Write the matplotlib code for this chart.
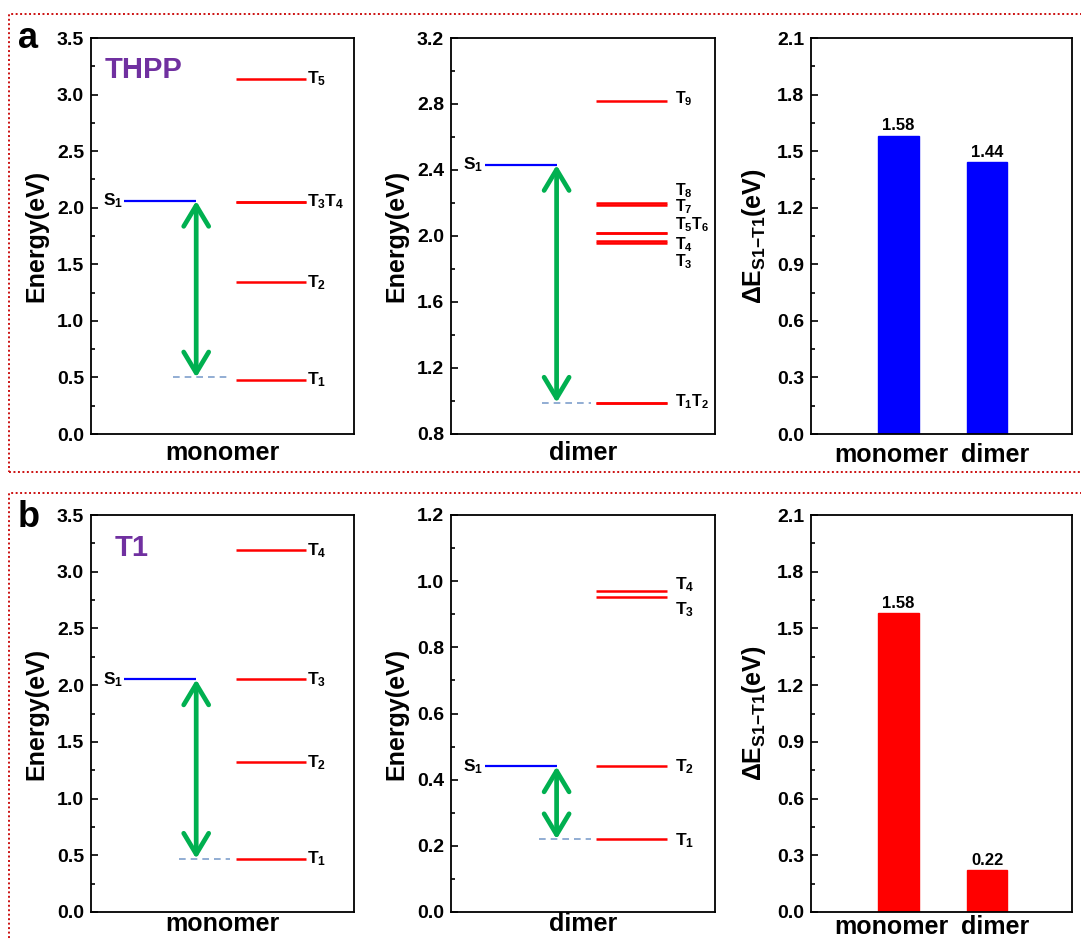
import matplotlib
matplotlib.use("Agg")
import matplotlib.pyplot as plt
from matplotlib.ticker import MultipleLocator, AutoMinorLocator
from matplotlib.patches import Rectangle
import matplotlib.transforms as mtransforms

plt.rcParams['font.family'] = ['Liberation Sans', 'DejaVu Sans']
plt.rcParams['font.weight'] = 'bold'
plt.rcParams['mathtext.fontset'] = 'custom'
plt.rcParams['mathtext.bf'] = 'Liberation Sans:bold'
plt.rcParams['mathtext.rm'] = 'Liberation Sans:bold'
plt.rcParams['mathtext.it'] = 'Liberation Sans:bold:italic'
plt.rcParams['mathtext.default'] = 'bf'

# ---------------- data ----------------
# (a) THPP monomer
thpp_mono_S1 = 2.06
thpp_mono_T = [0.48, 1.34, 2.05, 2.05, 3.14]
thpp_mono_labels = [r'$\mathbf{T_1}$', r'$\mathbf{T_2}$', r'$\mathbf{T_3T_4}$', r'$\mathbf{T_5}$']
thpp_mono_label_y = [0.48, 1.34, 2.05, 3.14]

# (a) THPP dimer
thpp_dim_S1 = 2.43
thpp_dim_T = [0.99, 0.99, 1.96, 1.97, 2.02, 2.02, 2.19, 2.20, 2.82]
thpp_dim_labels = [r'$\mathbf{T_1T_2}$', r'$\mathbf{T_3}$', r'$\mathbf{T_4}$', r'$\mathbf{T_5T_6}$',
                   r'$\mathbf{T_7}$', r'$\mathbf{T_8}$', r'$\mathbf{T_9}$']
thpp_dim_label_y = [0.995, 1.842, 1.947, 2.069, 2.176, 2.277, 2.834]

# (b) T1 monomer
t1_mono_S1 = 2.05
t1_mono_T = [0.47, 1.32, 2.05, 3.19]
t1_mono_labels = [r'$\mathbf{T_1}$', r'$\mathbf{T_2}$', r'$\mathbf{T_3}$', r'$\mathbf{T_4}$']
t1_mono_label_y = [0.47, 1.32, 2.05, 3.19]

# (b) T1 dimer
t1_dim_S1 = 0.44
t1_dim_T = [0.22, 0.44, 0.952, 0.970]
t1_dim_labels = [r'$\mathbf{T_1}$', r'$\mathbf{T_2}$', r'$\mathbf{T_3}$', r'$\mathbf{T_4}$']
t1_dim_label_y = [0.217, 0.44, 0.913, 0.988]

# bar charts
bar_categories = ['monomer', 'dimer']
thpp_gap = [1.58, 1.44]
t1_gap = [1.58, 0.22]

# ---------------- style ----------------
GREEN = '#00B050'
PURPLE = '#7030A0'
BLUE = '#0000FF'
RED = '#FF0000'
DASH = '#7F9FCC'

W, H = 1081, 939
fig = plt.figure(figsize=(W / 100, H / 100), dpi=100)


def px_axes(l, t, r, b):
    return fig.add_axes([l / W, 1 - b / H, (r - l) / W, (b - t) / H])


def style_axis(ax, ylim, major, ylabel):
    ax.set_ylim(*ylim)
    ax.yaxis.set_major_locator(MultipleLocator(major))
    ax.yaxis.set_minor_locator(AutoMinorLocator(2))
    ax.tick_params(axis='y', which='both', direction='in', right=False, labelsize=14, pad=5, width=1.2)
    ax.tick_params(axis='y', which='major', length=5)
    ax.tick_params(axis='y', which='minor', length=3)
    ax.tick_params(axis='x', which='both', bottom=False, top=False)
    for lab in ax.get_yticklabels():
        lab.set_fontweight('bold')
    for sp in ax.spines.values():
        sp.set_linewidth(1.3)
    ax.set_ylabel(ylabel, fontsize=18, fontweight='bold', labelpad=6)


def level_panel(ax, s1, tlev, labels, label_y, ylim, major, xlabel, label_x, dash_x0, xpad,
                dash_y=None, lab_fs=12.5):
    ax.set_xlim(0, 1)
    style_axis(ax, ylim, major, 'Energy(eV)')
    ax.set_xticks([])
    ax.set_xlabel(xlabel, fontsize=18, fontweight='bold', labelpad=xpad)
    # S1 level
    ax.plot([0.127, 0.40], [s1, s1], color=BLUE, lw=1.6, solid_capstyle='butt')
    ax.text(0.122, s1, r'$\mathbf{S_1}$', fontsize=12.5, ha='right', va='center')
    # T levels
    for t in tlev:
        ax.plot([0.55, 0.817], [t, t], color=RED, lw=1.8, solid_capstyle='butt')
    for lab, ly in zip(labels, label_y):
        ax.text(label_x, ly, lab, fontsize=lab_fs, ha='left', va='center')
    t1 = min(tlev) if dash_y is None else dash_y
    ax.plot([dash_x0, 0.53], [t1, t1], color=DASH, lw=1.2, dashes=(4, 3))
    ax.annotate('', xy=(0.40, t1), xytext=(0.40, s1),
                arrowprops=dict(arrowstyle='<->,head_length=1.5,head_width=0.9',
                                color=GREEN, lw=3.4, shrinkA=0, shrinkB=0))


def bar_panel(ax, values, color, ylabel, xpad):
    x = [1, 2]
    ax.set_xlim(0.009, 2.959)
    bars = ax.bar(x, values, width=0.457, color=color, edgecolor=color)
    style_axis(ax, (0, 2.1), 0.3, ylabel)
    ax.set_xticks(x)
    ax.set_xticklabels(bar_categories, fontsize=18, fontweight='bold')
    ax.tick_params(axis='x', pad=xpad)
    offs = [-7, 8]
    for lab, dx in zip(ax.get_xticklabels(), offs):
        lab.set_transform(lab.get_transform() + mtransforms.ScaledTranslation(dx / 100, 0, fig.dpi_scale_trans))
    for b, v in zip(bars, values):
        ax.annotate(f'{v:.2f}', (b.get_x() + b.get_width() / 2, v), xytext=(0, 2),
                    textcoords='offset points', ha='center', va='bottom', fontsize=12, fontweight='bold')


# ---------- row a ----------
ax1 = px_axes(91, 38, 354, 434)
level_panel(ax1, thpp_mono_S1, thpp_mono_T, thpp_mono_labels, thpp_mono_label_y,
            (0, 3.5), 0.5, 'monomer', 0.822, 0.31, 5, dash_y=0.50)
ax1.text(0.05, 0.92, 'THPP', transform=ax1.transAxes, fontsize=21, color=PURPLE,
         fontweight='bold', va='center', ha='left')

ax2 = px_axes(451, 38, 715, 434)
level_panel(ax2, thpp_dim_S1, thpp_dim_T, thpp_dim_labels, thpp_dim_label_y,
            (0.8, 3.2), 0.4, 'dimer', 0.85, 0.344, 5, lab_fs=11.5)

ax3 = px_axes(811, 38, 1072, 434)
bar_panel(ax3, thpp_gap, BLUE, r'$\mathbf{\Delta E_{S1{-}T1}(eV)}$', 3)

# ---------- row b ----------
ax4 = px_axes(91, 515, 354, 912)
level_panel(ax4, t1_mono_S1, t1_mono_T, t1_mono_labels, t1_mono_label_y,
            (0, 3.5), 0.5, 'monomer', 0.822, 0.335, 0)
ax4.text(0.09, 0.917, 'T1', transform=ax4.transAxes, fontsize=21, color=PURPLE,
         fontweight='bold', va='center', ha='left')

ax5 = px_axes(451, 515, 715, 912)
level_panel(ax5, t1_dim_S1, t1_dim_T, t1_dim_labels, t1_dim_label_y,
            (0, 1.2), 0.2, 'dimer', 0.85, 0.335, 0)

ax6 = px_axes(811, 515, 1072, 912)
bar_panel(ax6, t1_gap, RED, r'$\mathbf{\Delta E_{S1{-}T1}(eV)}$', -1.5)

# panel letters
fig.text(18 / W, 1 - 48 / H, 'a', fontsize=26, fontweight='bold', ha='left', va='baseline')
fig.text(18 / W, 1 - 527 / H, 'b', fontsize=26, fontweight='bold', ha='left', va='baseline')

# dotted frames
for (l, t, r, b) in [(9, 14, 1090, 472), (9, 493, 1090, 950)]:
    fig.patches.append(Rectangle((l / W, 1 - b / H), (r - l) / W, (b - t) / H,
                                 transform=fig.transFigure, fill=False,
                                 edgecolor='#CC1111', lw=1.4, linestyle=(0, (1, 1.3))))

fig.savefig('out.png', dpi=100)
